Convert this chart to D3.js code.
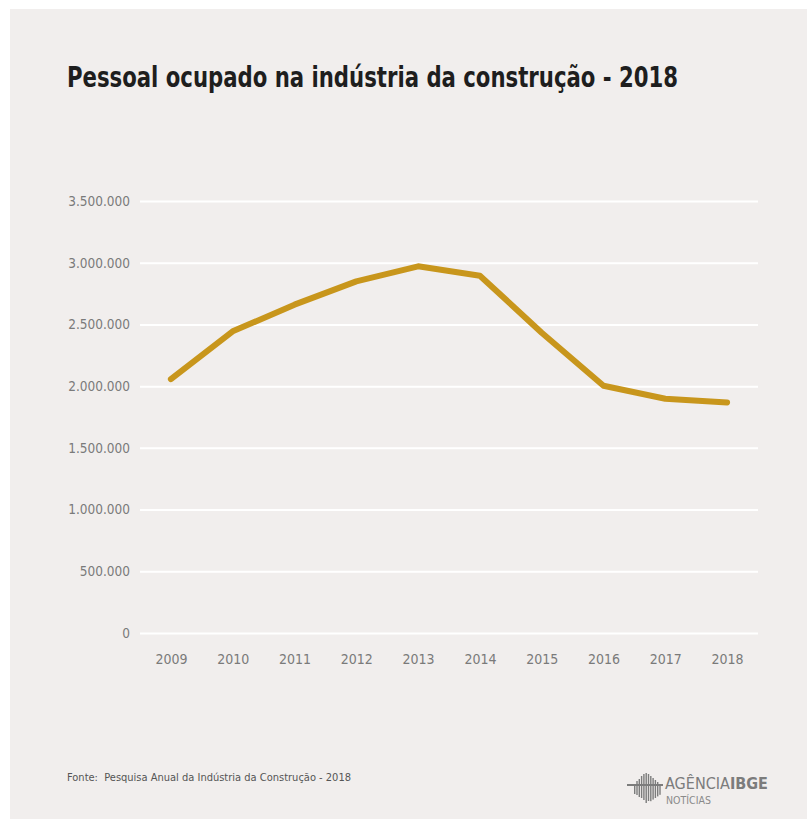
<!DOCTYPE html>
<html>
<head>
<meta charset="utf-8">
<script src="https://cdn.jsdelivr.net/npm/d3@7"></script>
<style>
  body { margin: 0; background: #fff; }
  text { font-family: "Liberation Sans Narrow", "DejaVu Sans Condensed", "Roboto", sans-serif; }
</style>
</head>
<body>
<div id="chart"></div>
<script>
// data
const years = ["2009", "2010", "2011", "2012", "2013", "2014", "2015", "2016", "2017", "2018"];
const pessoal = [2057000, 2444000, 2660000, 2849000, 2971000, 2895000, 2433000, 2003000, 1898000, 1868000];
const yTicks = [0, 500000, 1000000, 1500000, 2000000, 2500000, 3000000, 3500000];

const W = 807, H = 819;

const svg = d3.select("#chart")
    .append("svg")
    .attr("width", W)
    .attr("height", H);

// background panel
svg.append("rect")
    .attr("x", 10).attr("y", 9)
    .attr("width", W - 10).attr("height", H - 9)
    .attr("fill", "#f1eeed");

svg.append("text")
    .attr("x", 67).attr("y", 87)
    .attr("font-size", 28)
    .attr("font-weight", "bold")
    .attr("fill", "#1e1e1e")
    .attr("textLength", 611)
    .attr("lengthAdjust", "spacingAndGlyphs")
    .text("Pessoal ocupado na indústria da construção - 2018");

const x = d3.scalePoint()
    .domain(years)
    .range([140, 758])
    .padding(0.5);

const y = d3.scaleLinear()
    .domain([0, 3500000])
    .range([633, 201]);

const fmt = d3.formatLocale({decimal: ",", thousands: ".", grouping: [3], currency: ["R$", ""]}).format(",");

// gridlines + y labels
const yAxis = svg.append("g")
    .attr("transform", "translate(140,0)")
    .call(d3.axisLeft(y).tickValues(yTicks).tickSize(-618).tickPadding(10).tickFormat(fmt));
yAxis.select(".domain").remove();
yAxis.selectAll("line").attr("stroke", "#ffffff").attr("stroke-width", 2);
yAxis.selectAll("text")
    .attr("font-size", 13.5)
    .attr("fill", "#7a7a7a")
    .attr("font-family", "Liberation Sans Narrow, DejaVu Sans Condensed, sans-serif");

// x labels
const xAxis = svg.append("g")
    .attr("transform", "translate(0,633)")
    .call(d3.axisBottom(x).tickSize(0).tickPadding(21));
xAxis.select(".domain").remove();
xAxis.selectAll("text")
    .attr("font-size", 14)
    .attr("fill", "#7a7a7a")
    .attr("font-family", "Liberation Sans Narrow, DejaVu Sans Condensed, sans-serif");

// line
const line = d3.line()
    .x((d, i) => x(years[i]))
    .y(d => y(d));

svg.append("path")
    .datum(pessoal)
    .attr("d", line)
    .attr("fill", "none")
    .attr("stroke", "#c8961c")
    .attr("stroke-width", 6)
    .attr("stroke-linecap", "round")
    .attr("stroke-linejoin", "round");

// source
svg.append("text")
    .attr("x", 67).attr("y", 781)
    .attr("font-size", 11)
    .attr("fill", "#555")
    .attr("xml:space", "preserve")
    .text("Fonte:  Pesquisa Anual da Indústria da Construção - 2018");

// logo
const logo = svg.append("g").attr("fill", "#7c7c7c");
const barH = [10, 14, 18, 22, 26, 30, 30, 28, 24, 20, 16, 12];
const barTop = [784, 781, 779, 776, 774, 773, 774, 776, 778, 780, 782, 784];
barH.forEach((h, i) => {
  logo.append("rect")
      .attr("x", 634 + i * 2.3).attr("y", barTop[i])
      .attr("width", 1.4).attr("height", Math.min(h, 806 - barTop[i]) * (i < 6 ? 1 : 0.9));
});
logo.append("rect").attr("x", 627).attr("y", 784).attr("width", 36).attr("height", 2);
logo.append("text")
    .attr("x", 665).attr("y", 789)
    .attr("font-size", 15)
    .attr("fill", "#7c7c7c")
    .attr("textLength", 103)
    .attr("lengthAdjust", "spacingAndGlyphs")
    .text("AGÊNCIA")
  .append("tspan")
    .attr("font-weight", "bold")
    .text("IBGE");
logo.append("text")
    .attr("x", 666).attr("y", 804)
    .attr("font-size", 10.5)
    .attr("fill", "#8a8a8a")
    .text("NOTÍCIAS");
</script>
</body>
</html>
